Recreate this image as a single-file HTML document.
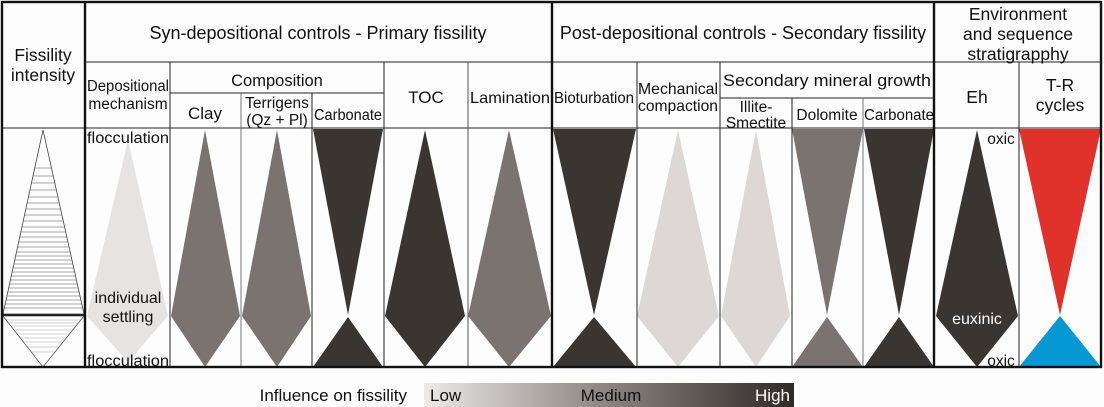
<!DOCTYPE html>
<html><head><meta charset="utf-8"><style>
html,body{margin:0;padding:0;background:#fdfdfd;}
svg{display:block;}
text{font-family:"Liberation Sans",Arial,sans-serif;fill:#111;}
</style></head><body>
<svg width="1104" height="407" viewBox="0 0 1104 407" xmlns="http://www.w3.org/2000/svg">
<defs>
<linearGradient id="g" x1="0" x2="1" y1="0" y2="0">
<stop offset="0" stop-color="#ece9e7"/><stop offset="0.5" stop-color="#8a837f"/><stop offset="1" stop-color="#2f2a27"/>
</linearGradient>
<clipPath id="up"><polygon points="43,130 3,314 84,314"/></clipPath>
<clipPath id="lo"><polygon points="3,316 84,316 43,367"/></clipPath>
</defs>
<rect width="1104" height="407" fill="#fdfdfd"/>

<g clip-path="url(#up)" stroke="#555" stroke-width="0.6">
<line x1="0" x2="90" y1="168" y2="168"/><line x1="0" x2="90" y1="176" y2="176"/><line x1="0" x2="90" y1="183" y2="183"/><line x1="0" x2="90" y1="190" y2="190"/><line x1="0" x2="90" y1="197" y2="197"/><line x1="0" x2="90" y1="203" y2="203"/><line x1="0" x2="90" y1="209" y2="209"/><line x1="0" x2="90" y1="215" y2="215"/><line x1="0" x2="90" y1="221" y2="221"/><line x1="0" x2="90" y1="227" y2="227"/><line x1="0" x2="90" y1="232" y2="232"/><line x1="0" x2="90" y1="237" y2="237"/><line x1="0" x2="90" y1="242" y2="242"/><line x1="0" x2="90" y1="247" y2="247"/><line x1="0" x2="90" y1="252" y2="252"/><line x1="0" x2="90" y1="256" y2="256"/><line x1="0" x2="90" y1="260" y2="260"/><line x1="0" x2="90" y1="264" y2="264"/><line x1="0" x2="90" y1="268" y2="268"/><line x1="0" x2="90" y1="272" y2="272"/><line x1="0" x2="90" y1="276" y2="276"/><line x1="0" x2="90" y1="280" y2="280"/><line x1="0" x2="90" y1="284" y2="284"/><line x1="0" x2="90" y1="288" y2="288"/><line x1="0" x2="90" y1="292" y2="292"/><line x1="0" x2="90" y1="296" y2="296"/><line x1="0" x2="90" y1="300" y2="300"/><line x1="0" x2="90" y1="304" y2="304"/><line x1="0" x2="90" y1="308" y2="308"/>
</g>
<g clip-path="url(#lo)" stroke="#aaa" stroke-width="0.6">
<line x1="0" x2="90" y1="320" y2="320"/><line x1="0" x2="90" y1="323" y2="323"/><line x1="0" x2="90" y1="326" y2="326"/><line x1="0" x2="90" y1="330" y2="330"/><line x1="0" x2="90" y1="334" y2="334"/><line x1="0" x2="90" y1="338" y2="338"/><line x1="0" x2="90" y1="342" y2="342"/><line x1="0" x2="90" y1="347" y2="347"/><line x1="0" x2="90" y1="352" y2="352"/>
</g>
<polygon points="43,130 3,314 84,314" fill="none" stroke="#444" stroke-width="0.8"/>
<polygon points="3,316 84,316 43,367" fill="none" stroke="#555" stroke-width="0.8"/>
<line x1="2" x2="85" y1="315" y2="315" stroke="#222" stroke-width="2"/>

<polygon points="128,140 87,316 128,362 168,316" fill="#e6e4e3"/>
<polygon points="205,130 171,316 205,367 240,316" fill="#7a736f"/>
<polygon points="277,130 242,316 277,367 311,316" fill="#7a736f"/>
<polygon points="313,129 383,129 348,315" fill="#3a3531"/>
<polygon points="348,317 313,367 383,367" fill="#3a3531"/>
<polygon points="425,130 385,316 425,367 465,316" fill="#3a3531"/>
<polygon points="509,130 468,316 509,367 551,316" fill="#7a736f"/>
<polygon points="553,129 636,129 594,315" fill="#3a3531"/>
<polygon points="594,317 553,367 636,367" fill="#3a3531"/>
<polygon points="678,130 637,316 678,367 719,316" fill="#ddd8d6"/>
<polygon points="756,130 721,316 756,367 790,316" fill="#ddd8d6"/>
<polygon points="792,129 863,129 827,315" fill="#7a736f"/>
<polygon points="827,317 792,367 863,367" fill="#7a736f"/>
<polygon points="864,129 934,129 899,315" fill="#3a3531"/>
<polygon points="899,317 864,367 934,367" fill="#3a3531"/>
<polygon points="977,130 936,316 977,367 1018,316" fill="#3a3531"/>
<polygon points="1019,129 1101,129 1060,315" fill="#e0312a"/>
<polygon points="1060,316 1019,367 1101,367" fill="#0698d4"/>

<g stroke="#222" stroke-width="1" fill="none">
<line x1="85" x2="1101" y1="62" y2="62"/>
<line x1="2" x2="1101" y1="128" y2="128"/>
<line x1="170" x2="384" y1="93" y2="93"/>
<line x1="720" x2="934" y1="98" y2="98"/>
<line x1="170" x2="170" y1="62" y2="367"/>
<line x1="241" x2="241" y1="93" y2="367" stroke="#777"/>
<line x1="312" x2="312" y1="93" y2="367"/>
<line x1="384" x2="384" y1="62" y2="367"/>
<line x1="468" x2="468" y1="62" y2="367" stroke="#555"/>
<line x1="637" x2="637" y1="62" y2="367"/>
<line x1="720" x2="720" y1="62" y2="367"/>
<line x1="792" x2="792" y1="98" y2="367"/>
<line x1="863" x2="863" y1="98" y2="367" stroke="#777"/>
<line x1="1019" x2="1019" y1="62" y2="367"/>
</g>
<g stroke="#111" stroke-width="2.4" fill="none">
<rect x="2" y="2" width="1099" height="365"/>
<line x1="85" x2="85" y1="2" y2="367"/>
<line x1="552" x2="552" y1="2" y2="367"/>
<line x1="934" x2="934" y1="2" y2="367"/>
</g>

<g font-size="17.5" text-anchor="middle">
<text x="43" y="61">Fissility</text>
<text x="43" y="81">intensity</text>
<text x="318" y="39" font-size="18">Syn-depositional controls - Primary fissility</text>
<text x="743" y="39" font-size="18">Post-depositional controls - Secondary fissility</text>
<text x="1018" y="20">Environment</text>
<text x="1018" y="40">and sequence</text>
<text x="1018" y="60">stratigrapphy</text>
<text x="277" y="86" font-size="16.5">Composition</text>
<text x="827" y="86" font-size="16.5" textLength="208" lengthAdjust="spacingAndGlyphs">Secondary mineral growth</text>
<text x="128" y="91" font-size="15.5" textLength="82" lengthAdjust="spacingAndGlyphs">Depositional</text>
<text x="128" y="109" font-size="15.5">mechanism</text>
<text x="205" y="119" font-size="17">Clay</text>
<text x="277" y="108" font-size="15.5">Terrigens</text>
<text x="277" y="125" font-size="15.5">(Qz + Pl)</text>
<text x="348" y="120" font-size="15.5" textLength="68" lengthAdjust="spacingAndGlyphs">Carbonate</text>
<text x="426" y="103" font-size="17">TOC</text>
<text x="510" y="103" font-size="16" textLength="80" lengthAdjust="spacingAndGlyphs">Lamination</text>
<text x="594" y="103" font-size="16" textLength="80" lengthAdjust="spacingAndGlyphs">Bioturbation</text>
<text x="678" y="94" font-size="16" textLength="80" lengthAdjust="spacingAndGlyphs">Mechanical</text>
<text x="678" y="111" font-size="16" textLength="80" lengthAdjust="spacingAndGlyphs">compaction</text>
<text x="756" y="112" font-size="15.5">Illite-</text>
<text x="756" y="128" font-size="15.5">Smectite</text>
<text x="827" y="120" font-size="15.5">Dolomite</text>
<text x="899" y="120" font-size="15.5" textLength="70" lengthAdjust="spacingAndGlyphs">Carbonate</text>
<text x="977" y="103">Eh</text>
<text x="1060" y="91">T-R</text>
<text x="1060" y="111">cycles</text>
<text x="128" y="143" font-size="15.5" textLength="82" lengthAdjust="spacingAndGlyphs">flocculation</text>
<text x="128" y="303" font-size="16">individual</text>
<text x="128" y="322" font-size="16">settling</text>
<text x="128" y="366" font-size="15.5" textLength="82" lengthAdjust="spacingAndGlyphs">flocculation</text>
<text x="1001" y="144" font-size="15.5">oxic</text>
<text x="1001" y="366" font-size="15.5">oxic</text>
<text x="977" y="324" font-size="16" style="fill:#fff">euxinic</text>
</g>

<text x="407" y="401" font-size="17" text-anchor="end">Influence on fissility</text>
<rect x="424" y="383" width="370" height="24" fill="url(#g)"/>
<text x="430" y="401" font-size="17">Low</text>
<text x="611" y="401" font-size="17" text-anchor="middle">Medium</text>
<text x="790" y="401" font-size="17" text-anchor="end" style="fill:#fff">High</text>
</svg>
</body></html>
